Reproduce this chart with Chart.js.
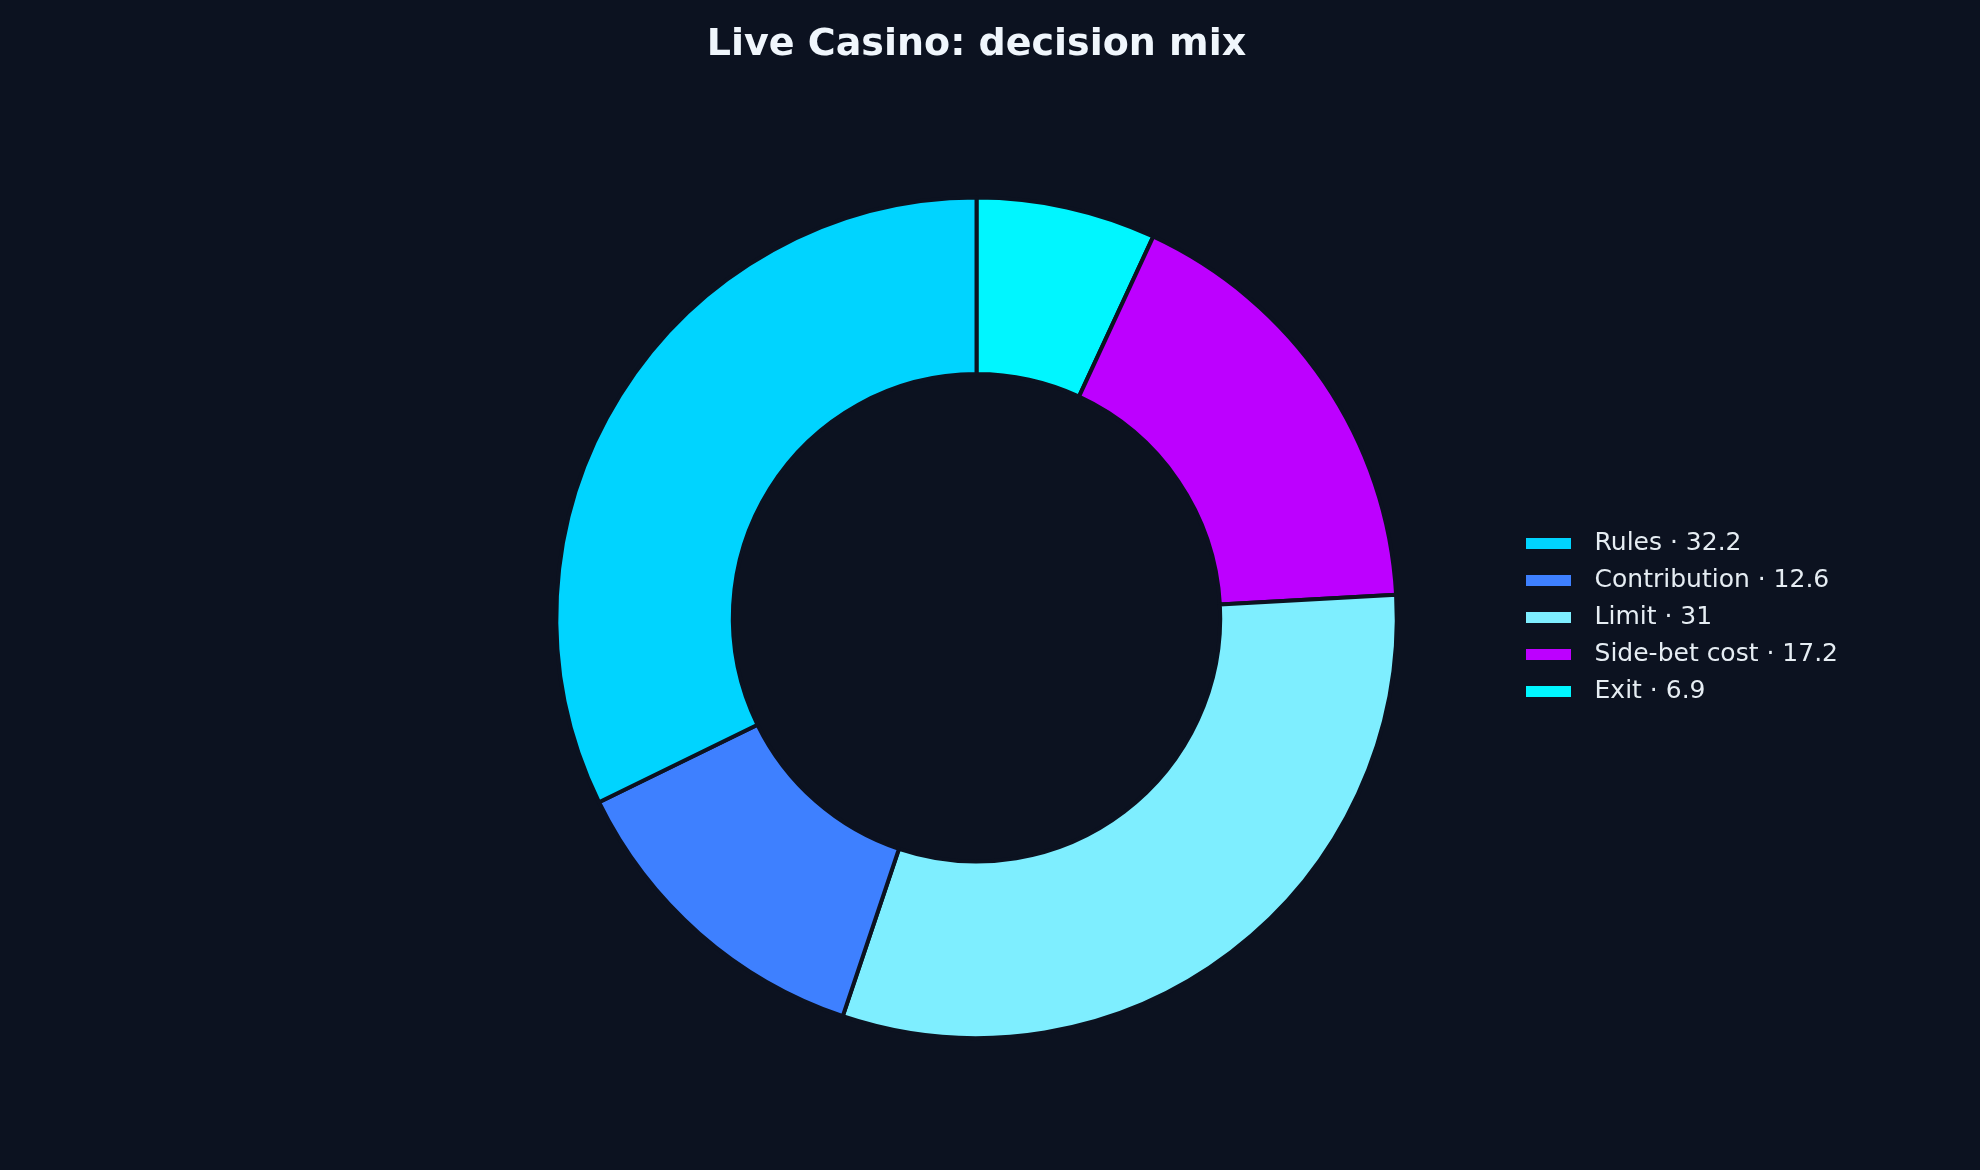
<!DOCTYPE html>
<html>
<head>
<meta charset="utf-8">
<title>Live Casino: decision mix</title>
<script src="https://cdn.jsdelivr.net/npm/chart.js@4.4.1/dist/chart.umd.min.js"></script>
<style>
    html, body { margin: 0; padding: 0; background: #0c1220; }
    canvas { display: block; }
</style>
</head>
<body>
<canvas id="decision-mix" width="1980" height="1170"></canvas>
<script>
// values, legend order
var categories = ["Rules", "Contribution", "Limit", "Side-bet cost", "Exit"];
var shares = [32.2, 12.6, 31, 17.2, 6.9];
var sliceColors = ["#00d4ff", "#3e80ff", "#7eeeff", "#bd00ff", "#00f6ff"];

var bgColor = "#0c1220";

// the reference goes counter-clockwise from 12 o'clock, Chart.js goes clockwise,
// so feed the ring in reverse and turn the legend back around
var ringLabels = categories.slice().reverse();
var ringValues = shares.slice().reverse();
var ringColors = sliceColors.slice().reverse();

var swatch = function (color) {
    var c = document.createElement("canvas");
    c.width = 45;
    c.height = 11;
    var g = c.getContext("2d");
    g.fillStyle = color;
    g.fillRect(0, 0, 45, 11);
    return c;
};

var legendLabels = function (chart) {
    var ds = chart.data.datasets[0];
    return chart.data.labels.map(function (label, i) {
        return {
            text: label + " \u00b7 " + ds.data[i],
            fillStyle: ds.backgroundColor[i],
            strokeStyle: ds.backgroundColor[i],
            lineWidth: 0,
            pointStyle: swatch(ds.backgroundColor[i]),
            fontColor: "#e6edf3",
            hidden: !chart.getDataVisibility(i),
            index: i
        };
    }).reverse();
};

var ctx = document.getElementById("decision-mix");
var decisionChart = new Chart(ctx, {
    type: "doughnut",
    data: {
        labels: ringLabels,
        datasets: [{
            data: ringValues,
            backgroundColor: ringColors,
            borderColor: bgColor,
            borderWidth: 4
        }]
    },
    options: {
        responsive: false,
        animation: false,
        devicePixelRatio: 1,
        events: [],
        cutout: "58%",
        rotation: 0,
        layout: {
            padding: { left: 450, right: 132, top: 0, bottom: 130 }
        },
        plugins: {
            title: {
                display: true,
                text: "Live Casino: decision mix",
                color: "#f0f6fc",
                fullSize: false,
                font: { family: "DejaVu Sans", size: 38, weight: "bold" },
                padding: { top: 22, bottom: 128 }
            },
            legend: {
                position: "right",
                fullSize: false,
                labels: {
                    usePointStyle: true,
                    pointStyleWidth: 67,
                    padding: 12,
                    color: "#e6edf3",
                    font: { family: "DejaVu Sans", size: 25 },
                    generateLabels: legendLabels
                }
            },
            tooltip: { enabled: false }
        }
    }
});
</script>
</body>
</html>
